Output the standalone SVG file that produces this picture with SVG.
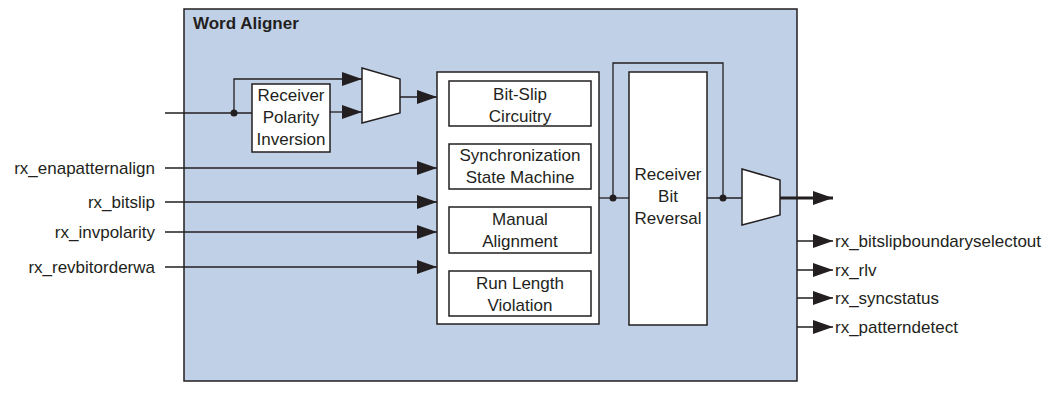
<svg xmlns="http://www.w3.org/2000/svg" width="1062" height="396" viewBox="0 0 1062 396">
<style>
text{font-family:"Liberation Sans",Arial,sans-serif;font-size:17px;fill:#231f20}
.c{text-anchor:middle}
.r{text-anchor:end}
.box{fill:#fff;stroke:#231f20;stroke-width:1.5}
.ln{fill:none;stroke:#231f20;stroke-width:1.3}
.arr{marker-end:url(#ah)}
.dot{fill:#231f20}
</style>
<defs>
<marker id="ah" markerUnits="userSpaceOnUse" markerWidth="20" markerHeight="14" refX="20" refY="7" orient="auto" viewBox="0 0 20 14">
<path d="M0,0 L20,7 L0,14 Z" fill="#231f20"/>
</marker>
</defs>
<g id="word-aligner">
<rect x="184" y="9" width="613" height="372" fill="#c0d0e7" stroke="#231f20" stroke-width="1.5"/>
<text x="193" y="29" style="font-weight:bold">Word Aligner</text>
</g>
<g id="polarity-inversion">
<rect class="box" x="252" y="84" width="78" height="68"/>
<text class="c" x="291" y="101">Receiver</text>
<text class="c" x="291" y="123">Polarity</text>
<text class="c" x="291" y="145">Inversion</text>
</g>
<g id="mux1">
<polygon class="box" points="362,68 400,79 400,113 362,123"/>
</g>
<g id="core">
<rect class="box" x="437" y="72" width="162" height="252"/>
</g>
<g id="bitslip">
<rect class="box" x="449" y="81" width="142" height="45"/>
<text class="c" x="520" y="100">Bit-Slip</text>
<text class="c" x="520" y="122">Circuitry</text>
</g>
<g id="sync-sm">
<rect class="box" x="449" y="144" width="142" height="45"/>
<text class="c" x="520" y="161">Synchronization</text>
<text class="c" x="520" y="183">State Machine</text>
</g>
<g id="manual">
<rect class="box" x="449" y="207" width="142" height="46"/>
<text class="c" x="520" y="225">Manual</text>
<text class="c" x="520" y="247">Alignment</text>
</g>
<g id="rlv">
<rect class="box" x="449" y="271" width="142" height="45"/>
<text class="c" x="520" y="289">Run Length</text>
<text class="c" x="520" y="311">Violation</text>
</g>
<g id="bit-reversal">
<rect class="box" x="629" y="72" width="78" height="253"/>
<text class="c" x="668" y="180">Receiver</text>
<text class="c" x="668" y="202">Bit</text>
<text class="c" x="668" y="224">Reversal</text>
</g>
<g id="mux2">
<polygon class="box" points="742,169 780,180 780,215 742,225"/>
</g>
<g id="inputs">
<text class="r" x="155" y="174">rx_enapatternalign</text>
<text class="r" x="155" y="208">rx_bitslip</text>
<text class="r" x="155" y="238">rx_invpolarity</text>
<text class="r" x="155" y="273">rx_revbitorderwa</text>
</g>
<g id="outputs">
<text x="835" y="247">rx_bitslipboundaryselectout</text>
<text x="835" y="276">rx_rlv</text>
<text x="835" y="304">rx_syncstatus</text>
<text x="835" y="333">rx_patterndetect</text>
</g>
<g id="connectors">
<line class="ln" x1="165" y1="113" x2="252" y2="113"/>
<polyline class="ln arr" points="234,113 234,79 362,79"/>
<line class="ln arr" x1="330" y1="112" x2="362" y2="112"/>
<line class="ln arr" x1="400" y1="97" x2="437" y2="97"/>
<line class="ln arr" x1="165" y1="168" x2="437" y2="168"/>
<line class="ln arr" x1="165" y1="202" x2="437" y2="202"/>
<line class="ln arr" x1="165" y1="232" x2="437" y2="232"/>
<line class="ln arr" x1="165" y1="267" x2="437" y2="267"/>
<line class="ln" x1="599" y1="198" x2="629" y2="198"/>
<polyline class="ln" points="613,198 613,63 723,63 723,198"/>
<line class="ln" x1="707" y1="198" x2="742" y2="198"/>
<line class="ln arr" x1="780" y1="198" x2="833" y2="198" style="stroke-width:3"/>
<line class="ln arr" x1="797" y1="241" x2="833" y2="241"/>
<line class="ln arr" x1="797" y1="270" x2="833" y2="270"/>
<line class="ln arr" x1="797" y1="298" x2="833" y2="298"/>
<line class="ln arr" x1="797" y1="327" x2="833" y2="327"/>
<circle class="dot" cx="234" cy="113" r="3.5"/>
<circle class="dot" cx="613" cy="198" r="3.5"/>
<circle class="dot" cx="723" cy="198" r="3.5"/>
</g>
</svg>
